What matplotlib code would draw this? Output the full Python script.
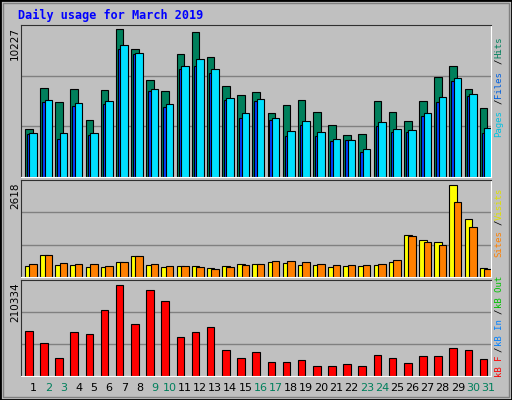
import matplotlib
matplotlib.use("Agg")
import matplotlib.pyplot as plt
from matplotlib.patches import Rectangle

days = list(range(1, 32))
weekend = [2, 3, 9, 10, 16, 17, 23, 24, 30, 31]
hits = [3355,6132,5160,6063,3980,5993,10227,8839,6687,5924,8492,10019,8284,6271,5646,5854,4466,4952,5299,4535,3633,2939,3008,5230,4535,3911,5230,6896,7659,6063,4744]
files = [3008,5160,2661,4883,2939,5021,8839,8492,5924,4813,7451,7659,7173,5299,4119,5230,3980,2869,3633,2869,2522,2592,1759,3564,3147,3147,4258,5160,6618,5577,3078]
pages = [3078,5299,3078,5091,3078,5230,9117,8562,6063,5021,7659,8145,7451,5438,4397,5369,4119,3216,3911,3147,2661,2592,1967,3841,3355,3286,4466,5507,6826,5716,3425]
visits = [313,626,342,342,285,285,427,598,342,285,313,313,256,313,370,370,427,399,342,342,285,313,313,342,427,1196,1053,996,2618,1651,256]
sites = [370,626,399,370,370,313,427,598,370,313,313,285,228,285,342,370,456,456,427,370,342,342,342,370,484,1167,996,911,2135,1424,228]
kbytes = [104394,76760,42218,102091,97485,152752,210334,120513,198808,173478,90577,102091,113605,60640,42218,56035,33007,33007,37612,23796,23796,28401,23796,49126,42218,30704,46824,46824,65246,60640,39915]

W, H = 512, 400
fig = plt.figure(figsize=(W/100, H/100), dpi=100, facecolor="#C0C0C0")

def ax_px(x0, y0, x1, y1):
    return fig.add_axes([x0/W, 1-y1/H, (x1-x0)/W, (y1-y0)/H])

def style(ax, top):
    ax.set_facecolor("#C0C0C0")
    ax.set_xlim(0.19, 31.19)
    ax.set_ylim(0, top)
    ax.set_xticks([]); ax.set_yticks([])
    for s in ["top", "left"]:
        ax.spines[s].set_color("#303030")
    for s in ["bottom", "right"]:
        ax.spines[s].set_color("white")
    for f in (1/3, 2/3):
        ax.axhline(top*f, color="#808080", lw=1, zorder=0)

x = days
ax1 = ax_px(21, 25, 491, 177)
style(ax1, max(hits)*152/147.7)
ax1.bar([d-0.55 for d in x], hits, 0.5, align="edge", color="#00805C", edgecolor="black", lw=0.8)
ax1.bar([d-0.42 for d in x], files, 0.5, align="edge", color="#0040FF", edgecolor="black", lw=0.8)
ax1.bar([d-0.26 for d in x], pages, 0.5, align="edge", color="#00E0FF", edgecolor="black", lw=0.8)

ax2 = ax_px(21, 180, 491, 277)
style(ax2, max(visits)*97/92)
ax2.bar([d-0.55 for d in x], visits, 0.5, align="edge", color="#FFFF00", edgecolor="black", lw=0.8)
ax2.bar([d-0.26 for d in x], sites, 0.5, align="edge", color="#FF8000", edgecolor="black", lw=0.8)

ax3 = ax_px(21, 280, 491, 376)
style(ax3, max(kbytes)*96/91.3)
ax3.bar([d-0.55 for d in x], kbytes, 0.5, align="edge", color="#FF0000", edgecolor="black", lw=0.8)

for d in days:
    ax3.text(d, -0.13, str(d), transform=ax3.get_xaxis_transform(), ha="center", va="center",
             fontsize=8, color="#00805C" if d in weekend else "black", family="DejaVu Sans")

fig.text(18/W, 1-15/H, "Daily usage for March 2019", color="#0000FF", fontsize=8.5,
         fontweight="bold", family="DejaVu Sans Mono", va="center")

def ylab(txt, ytop):
    fig.text(15/W, 1-ytop/H, txt, rotation=90, fontsize=7.5, ha="center", va="top", family="DejaVu Sans")
ylab(str(max(hits)), 27)
ylab(str(max(visits)), 182)
ylab(str(max(kbytes)), 282)

def rlab(parts):
    for txt, yb, col in parts:
        fig.text(499/W, 1-yb/H, txt, rotation=90, fontsize=6.5, ha="center", va="bottom",
                 color=col, family="DejaVu Sans Mono")
rlab([("Pages", 137, "#00C0E0"), ("/", 104, "black"), ("Files", 98, "#0060E0"),
      ("/", 64, "black"), ("Hits", 58, "#00805C")])
rlab([("Sites", 257, "#FF8000"), ("/", 225, "black"), ("Visits", 220, "#E0E000")])
rlab([("kB F", 377, "#FF0000"), ("/", 352, "black"), ("kB In", 346, "#0080FF"),
      ("/", 314, "black"), ("kB Out", 308, "#00C000")])

fig.patches.append(Rectangle((0, 0), 1, 1, transform=fig.transFigure, fill=False, ec="black", lw=2))
fig.patches.append(Rectangle((3/W, 3/H), 1-6/W, 1-6/H, transform=fig.transFigure, fill=False, ec="#808080", lw=1))

fig.savefig("out.png", dpi=100, facecolor=fig.get_facecolor())
